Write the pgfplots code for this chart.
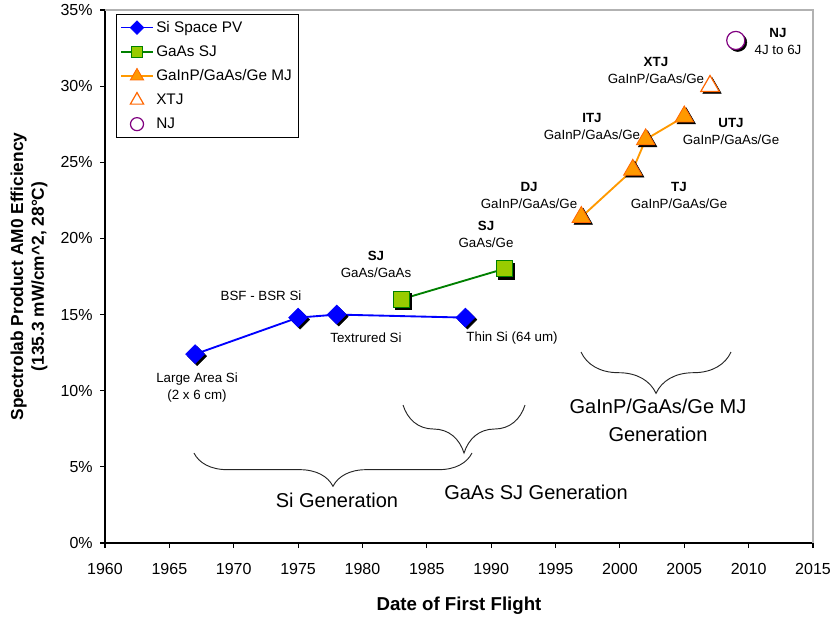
\documentclass[border=0pt]{standalone}
\usepackage{fontspec}
\setmainfont{Liberation Sans}
\usepackage{pgfplots}
\usepackage{pgfplotstable}
\pgfplotsset{compat=1.18}
\usetikzlibrary{decorations.pathreplacing}
\definecolor{siblue}{RGB}{0,0,255}
\definecolor{gaasgreen}{RGB}{0,128,0}
\definecolor{gaasfill}{RGB}{153,204,0}
\definecolor{mjorange}{RGB}{255,153,0}
\definecolor{mjedge}{RGB}{255,102,0}
\definecolor{njpurple}{RGB}{128,0,128}

\pgfplotstableread{
x y
1967 12.4
1975 14.8
1978 15.0
1988 14.8
}\sidata
\pgfplotstableread{
x y
1983 16.0
1991 18.0
}\gaasdata
\pgfplotstableread{
x y
1997 21.4
2001 24.5
2002 26.5
2005 28.0
}\mjdata
\pgfplotstableread{
x y
2007 30.0
}\xtjdata
\pgfplotstableread{
x y
2009 33.0
}\njdata

\begin{document}
\begin{tikzpicture}
\begin{axis}[
  name=ax,
  scale only axis,
  width=531pt, height=399.75pt,
  xmin=1960, xmax=2015, ymin=0, ymax=35,
  xtick={1960,1965,...,2015}, ytick={0,5,...,35},
  axis lines*=left,
  axis line style={black, line width=0.8pt},
  tick align=outside, major tick length=3.75pt,
  tick style={black, line width=0.8pt},
  clip=false,
  /pgf/number format/.cd, 1000 sep={}, assume math mode=true, /pgfplots/.cd,
  yticklabel={\pgfmathprintnumber{\tick}\%},
  ticklabel style={font=\fontsize{12}{14}\selectfont},
  xticklabel style={yshift=-8pt},
  yticklabel style={xshift=-2pt},
  xlabel={Date of First Flight},
  ylabel={Spectrolab Product AM0 Efficiency\\(135.3 mW/cm\textasciicircum 2, 28°C)},
  xlabel style={font=\bfseries\fontsize{14}{17}\selectfont, yshift=-10pt},
  ylabel style={align=center, font=\bfseries\fontsize{13}{15.5}\selectfont},
  ylabel shift=3pt,
  legend style={at={(0,1)}, anchor=north west, xshift=8.25pt, yshift=-3pt,
    draw=black, line width=0.6pt, font=\fontsize{11.5}{13}\selectfont,
    row sep=4.5pt, inner sep=3pt},
  legend cell align=left,
  legend image code/.code={\draw[mark repeat=2, mark phase=2] plot coordinates {(0cm,0cm) (0.42cm,0cm) (0.84cm,0cm)};},
  legend image post style={line width=1pt, every mark/.append style={scale=0.72}},
]
% shadows
\addplot[forget plot, only marks, mark=square*, mark size=5pt,
  mark options={xshift=1.5pt, yshift=-1.5pt, rotate=45, draw=black, fill=black}] table {\sidata};
\addplot[forget plot, only marks, mark=square*, mark size=6pt,
  mark options={xshift=1.5pt, yshift=-1.5pt, draw=black, fill=black}] table {\gaasdata};
\addplot[forget plot, only marks, mark=triangle*, mark size=8pt,
  mark options={xshift=1.5pt, yshift=-1.5pt, draw=black, fill=black}] table {\mjdata};
\addplot[forget plot, only marks, mark=triangle*, mark size=8pt,
  mark options={xshift=1.5pt, yshift=-1.5pt, draw=black, fill=black}] table {\xtjdata};
\addplot[forget plot, only marks, mark=*, mark size=6.8pt,
  mark options={xshift=1.5pt, yshift=-1.5pt, draw=black, fill=black}] table {\njdata};

% series
\addplot[color=siblue, line width=1.4pt, mark=square*, mark size=5pt,
  mark options={rotate=45, draw=siblue, fill=siblue, line width=0.5pt}] table {\sidata};
\addlegendentry{Si Space PV}
\addplot[color=gaasgreen, line width=1.4pt, mark=square*, mark size=6pt,
  mark options={draw=gaasgreen, fill=gaasfill, line width=0.6pt}] table {\gaasdata};
\addlegendentry{GaAs SJ}
\addplot[color=mjorange, line width=1.4pt, mark=triangle*, mark size=8pt,
  mark options={draw=mjedge, fill=mjorange, line width=0.6pt}] table {\mjdata};
\addlegendentry{GaInP/GaAs/Ge MJ}
\addplot[only marks, mark=triangle*, mark size=8pt,
  mark options={draw=mjedge, fill=white, line width=0.9pt}] table {\xtjdata};
\addlegendentry{XTJ}
\addplot[only marks, mark=*, mark size=6.8pt,
  mark options={draw=njpurple, fill=white, line width=0.9pt}] table {\njdata};
\addlegendentry{NJ}

% plot-area border
\draw[gray!60, line width=0.8pt] (rel axis cs:0,1) -- (rel axis cs:1,1) -- (rel axis cs:1,0);

% point annotations
\begin{scope}[every node/.style={align=center, font=\fontsize{10}{12.75}\selectfont}]
\node at (axis cs:1967.15,10.18) {Large Area Si\\(2 x 6 cm)};
\node at (axis cs:1972.12,16.22) {BSF - BSR Si};
\node at (axis cs:1980.27,13.46) {Textrured Si};
\node at (axis cs:1991.62,13.46) {Thin Si (64 um)};
\node at (axis cs:1981.05,18.32) {\textbf{SJ}\\GaAs/GaAs};
\node at (axis cs:1989.6,20.29) {\textbf{SJ}\\GaAs/Ge};
\node at (axis cs:1992.94,22.85) {\textbf{DJ}\\GaInP/GaAs/Ge};
\node at (axis cs:1997.83,27.38) {\textbf{ITJ}\\GaInP/GaAs/Ge};
\node at (axis cs:2004.59,22.85) {\textbf{TJ}\\GaInP/GaAs/Ge};
\node at (axis cs:2008.63,26.99) {\textbf{UTJ}\\GaInP/GaAs/Ge};
\node at (axis cs:2002.8,31.06) {\textbf{XTJ}\\GaInP/GaAs/Ge};
\node at (axis cs:2012.28,32.96) {\textbf{NJ}\\4J to 6J};
\end{scope}

% generation braces
\draw[black!85, line width=0.7pt, decorate, decoration={brace, mirror, amplitude=25pt}]
  (axis cs:1966.91,5.91) -- (axis cs:1988.51,5.91);
\draw[black!85, line width=0.7pt, decorate, decoration={brace, mirror, amplitude=36pt}]
  (axis cs:1983.15,9.06) -- (axis cs:1992.63,9.06);
\draw[black!85, line width=0.7pt, decorate, decoration={brace, mirror, amplitude=31pt}]
  (axis cs:1996.98,12.54) -- (axis cs:2008.63,12.54);
\begin{scope}[every node/.style={align=center, font=\fontsize{15}{21}\selectfont}]
\node at (axis cs:1978.02,2.82) {Si Generation};
\node at (axis cs:1993.48,3.35) {GaAs SJ Generation};
\node at (axis cs:2002.96,8.08) {GaInP/GaAs/Ge MJ\\Generation};
\end{scope}
\end{axis}
\pgfresetboundingbox
\path ([shift={(-78.75pt,-60pt)}]ax.south west) rectangle ([shift={(15pt,7.5pt)}]ax.north east);
\end{tikzpicture}
\end{document}
